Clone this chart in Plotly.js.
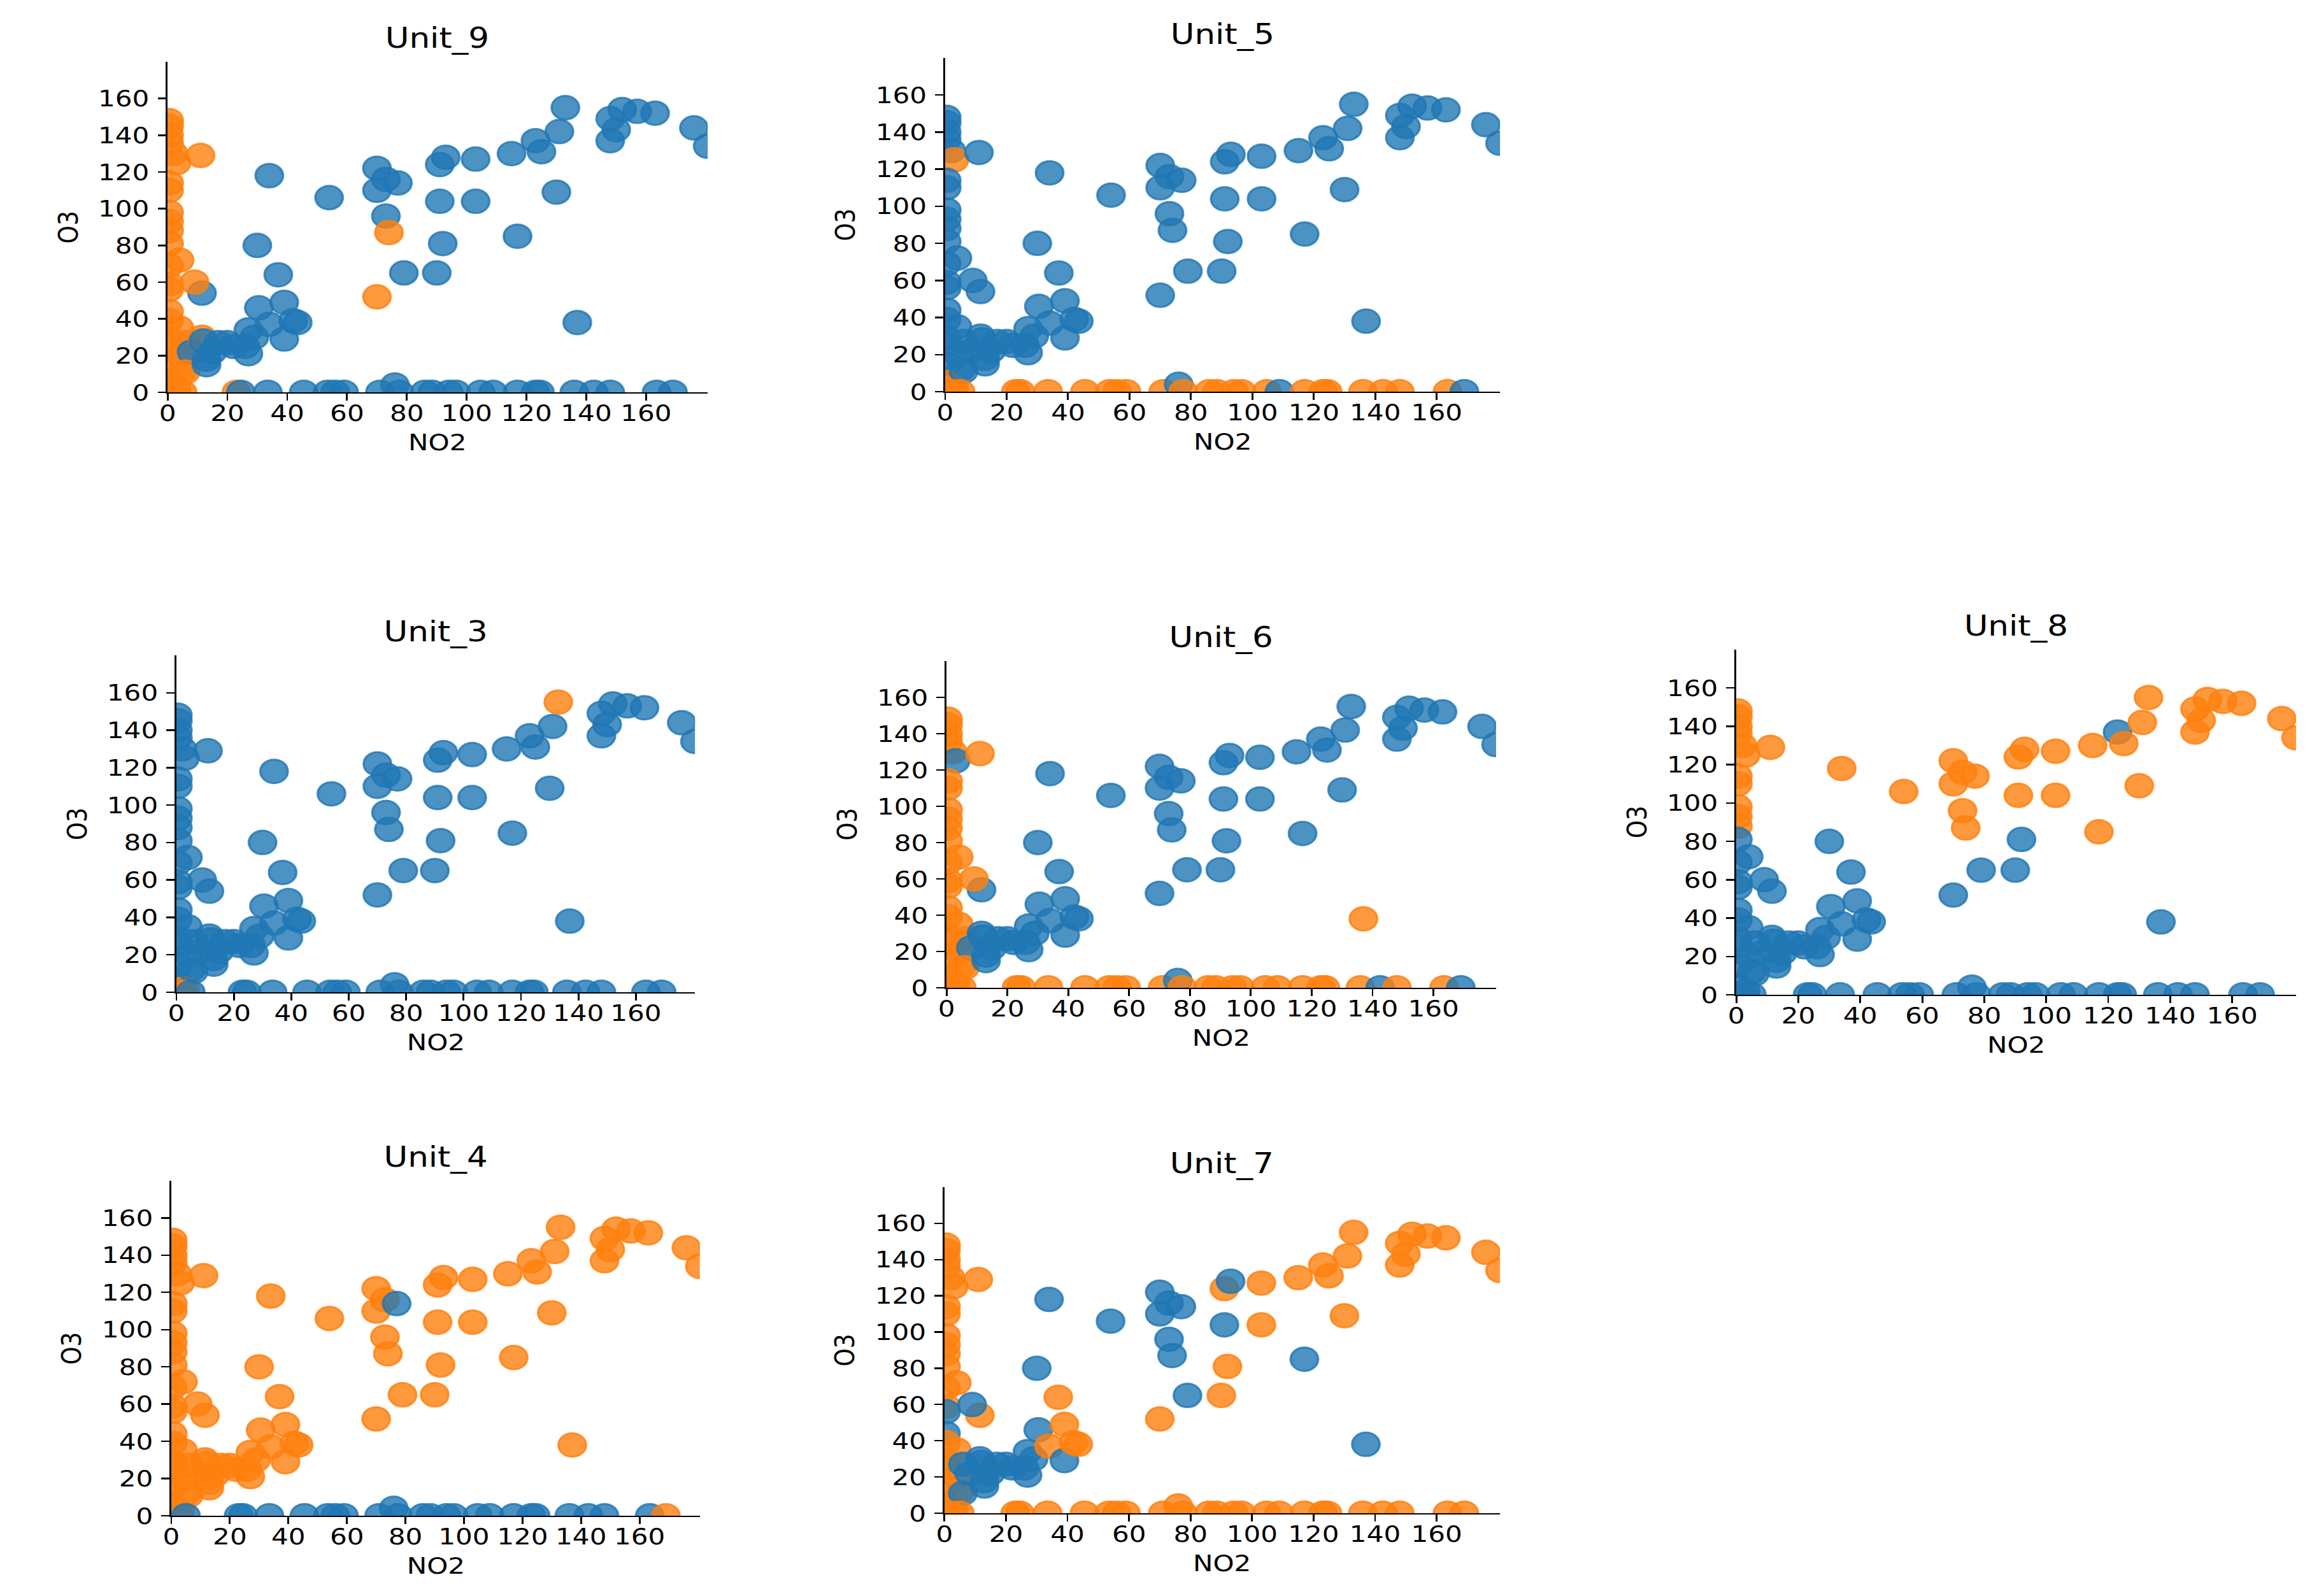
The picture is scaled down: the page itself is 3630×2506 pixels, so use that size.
<!DOCTYPE html>
<html>
<head>
<meta charset="utf-8">
<script src="https://cdn.plot.ly/plotly-3.0.1.min.js"></script>
<style>
html,body{margin:0;padding:0;background:#fff;overflow:hidden;}
#plot{width:3103px;height:2506px;transform:scaleX(1.16984);transform-origin:0 0;}
</style>
</head>
<body>
<div id="plot"></div>
<script>
// ---- data (same NO2 / O3 samples in every panel; labels differ per unit) ----
const units = ['Unit_9','Unit_5','Unit_3','Unit_6','Unit_8','Unit_4','Unit_7'];
const ticks = [0,20,40,60,80,100,120,140,160];

const no2 = [
  // column at NO2 ~ 0
  0.5,0.5,0.5,0.5,2,3,0.5,0.5,0.5,0.5,0.5,0.5,4,0.5,0.5,0.5,0.5,0.5,4,0.5,0.5,4,0.5,5,0.5,3,
  // low-left cluster
  6,8,6,11.5,12,13,13,15,17,20,22,26,27,27,29,30.5,34,39,39,43.5,42,11.5,9,
  // middle / upper
  11,34,54,30,37,70,70,70,73,77,73,74,79,90,92,91,91,93,103,103,117,115,123,125,130,131,133,148,150,148,152,157,163,176,180.6,137,
  // bottom row O3 ~ 0
  23,24.5,33.5,45.5,53.5,56,59,71,76,77.5,86,88.5,94,96.5,104.7,108.8,117,123,124.5,136,142.5,148,163.5,169,2,5
];
const o3 = [
  148,145,140,136,130,125,114,110,98,93,88,81,72,69,59,56,44,39,35,29,25,20,15,12,5,2,
  27,22,11,30,28,15,18,22,27,27,25,25,21,34,30,46,37,49,29,38,39,54,60,
  129,118,106,80,64,52,122,110,116,114,96,87,65,65,81,104,124,128,127,104,85,130,137,131,109,142,155,137,143,149,154,153,152,144,134,38,
  0,0,0,0,0,0,0,0,4,0,0,0,0,0,0,0,0,0,0,0,0,0,0,0,0,0
];
// cluster label per point (0 = blue, 1 = orange)
const label_unit9 = [
  1,1,1,1,1,1,1,1,1,1,1,1,1,1,1,1,1,1,1,1,1,1,1,1,1,1,
  1,0,1,1,0,0,0,0,0,0,0,0,0,0,0,0,0,0,0,0,0,0,1,
  1,0,0,0,0,1,0,0,0,0,0,1,0,0,0,0,0,0,0,0,0,0,0,0,0,0,0,0,0,0,0,0,0,0,0,0,
  1,0,0,0,0,0,0,0,0,0,0,0,0,0,0,0,0,0,0,0,0,0,0,0,1,1
];
const label_unit5 = [
  0,0,0,0,0,1,0,0,0,0,0,0,0,0,0,0,0,0,0,0,0,0,0,0,1,1,
  0,0,0,0,0,0,0,0,0,0,0,0,0,0,0,0,0,0,0,0,0,0,0,
  0,0,0,0,0,0,0,0,0,0,0,0,0,0,0,0,0,0,0,0,0,0,0,0,0,0,0,0,0,0,0,0,0,0,0,0,
  1,1,1,1,1,1,1,1,0,1,1,1,1,1,1,0,1,1,1,1,1,1,1,0,1,1
];
const label_unit3 = [
  0,0,0,0,0,0,0,0,0,0,0,0,0,0,0,0,0,0,0,0,0,0,0,0,0,1,
  0,0,0,0,0,0,0,0,0,0,0,0,0,0,0,0,0,0,0,0,0,0,0,
  0,0,0,0,0,0,0,0,0,0,0,0,0,0,0,0,0,0,0,0,0,0,0,0,0,0,1,0,0,0,0,0,0,0,0,0,
  0,0,0,0,0,0,0,0,0,0,0,0,0,0,0,0,0,0,0,0,0,0,0,0,1,0
];
const label_unit6 = [
  1,1,1,1,1,0,1,1,1,1,1,1,1,1,1,1,1,1,1,1,1,1,1,1,1,1,
  1,0,1,0,0,0,0,0,0,0,0,0,0,0,0,0,0,0,0,0,0,0,1,
  1,0,0,0,0,0,0,0,0,0,0,0,0,0,0,0,0,0,0,0,0,0,0,0,0,0,0,0,0,0,0,0,0,0,0,1,
  1,1,1,1,1,1,1,1,0,1,1,1,1,1,1,1,1,1,1,1,0,1,1,0,1,1
];
const label_unit8 = [
  1,1,1,1,1,1,1,1,1,1,1,0,0,0,0,0,0,0,0,0,0,0,0,0,0,0,
  0,0,0,0,0,0,0,0,0,0,0,0,0,0,0,0,0,0,0,0,0,0,0,
  1,1,1,0,0,0,1,1,1,1,1,1,0,0,0,1,1,1,1,1,1,1,0,1,1,1,1,1,1,1,1,1,1,1,1,0,
  0,0,0,0,0,0,0,0,0,0,0,0,0,0,0,0,0,0,0,0,0,0,0,0,0,0
];
const label_unit4 = [
  1,1,1,1,1,1,1,1,1,1,1,1,1,1,1,1,1,1,1,1,1,1,1,1,1,1,
  1,1,1,1,1,1,1,1,1,1,1,1,1,1,1,1,1,1,1,1,1,1,1,
  1,1,1,1,1,1,1,1,1,0,1,1,1,1,1,1,1,1,1,1,1,1,1,1,1,1,1,1,1,1,1,1,1,1,1,1,
  0,0,0,0,0,0,0,0,0,0,0,0,0,0,0,0,0,0,0,0,0,0,0,1,1,0
];
const label_unit7 = [
  1,1,1,1,1,1,1,1,1,1,1,1,1,1,1,0,0,1,1,1,1,1,1,1,1,1,
  0,0,0,0,0,0,0,0,0,0,0,0,0,0,0,0,1,1,0,1,1,1,0,
  1,0,0,0,1,1,0,0,0,0,0,0,0,1,1,0,1,0,1,1,0,1,1,1,1,1,1,1,1,1,1,1,1,1,1,0,
  1,1,1,1,1,1,1,1,1,1,1,1,1,1,1,1,1,1,1,1,1,1,1,1,1,1
];
const labels = [label_unit9,label_unit5,label_unit3,label_unit6,label_unit8,label_unit4,label_unit7];

// ---- layout ----
const FONT = 'DejaVu Sans';
const fill = ['rgba(31,119,180,0.8)','rgba(255,127,14,0.8)'];
// panel positions [x0,x1,y0,y1] in paper fractions
const panels = [
  [0.0725,0.3061,0.7542,0.9613],
  [0.4088,0.6488,0.7546,0.9637],
  [0.0763,0.3006,0.3783,0.5894],
  [0.4094,0.6471,0.3811,0.5858],
  [0.7510,0.9931,0.3767,0.5930],
  [0.0741,0.3027,0.0503,0.2602],
  [0.4085,0.6488,0.0519,0.2562]
];

const data = [];
const layout = {
  width:3103, height:2506, autosize:false,
  margin:{l:0,r:0,t:0,b:0,pad:0},
  paper_bgcolor:'#fff', plot_bgcolor:'#fff',
  showlegend:false,
  font:{family:FONT, size:36, color:'#000'},
  annotations:[]
};

units.forEach((u,i)=>{
  const n = i===0 ? '' : String(i+1);
  const p = panels[i];
  data.push({
    type:'scatter', mode:'markers',
    x:no2, y:o3,
    xaxis:'x'+n, yaxis:'y'+n,
    marker:{
      size:37,
      color:labels[i].map(v=>fill[v]),
      line:{width:3,color:labels[i].map(v=>fill[v])}
    },
    cliponaxis:true,
    hoverinfo:'skip'
  });
  const common = {
    showline:true, linecolor:'#000', linewidth:2.4,
    ticks:'outside', ticklen:11, tickwidth:2.4, tickcolor:'#000',
    tickvals:ticks, ticktext:ticks.map(String),
    showgrid:false, zeroline:false,
    tickfont:{family:FONT,size:36,color:'#000'}
  };
  layout['xaxis'+n] = Object.assign({}, common, {domain:[p[0],p[1]], range:[0,180.6], anchor:'y'+n, ticklabelstandoff:-12});
  layout['yaxis'+n] = Object.assign({}, common, {domain:[p[2],p[3]], range:[0,180], anchor:'x'+n, ticklabelstandoff:4});
  const cx = (p[0]+p[1])/2;
  layout.annotations.push({
    text:u, xref:'paper', yref:'paper', x:cx, y:p[3],
    xanchor:'center', yanchor:'middle', yshift:37, showarrow:false,
    font:{family:FONT,size:44,color:'#000'}
  });
  layout.annotations.push({
    text:'NO2', xref:'paper', yref:'paper', x:cx, y:p[2],
    xanchor:'center', yanchor:'middle', yshift:-79, showarrow:false,
    font:{family:FONT,size:36,color:'#000'}
  });
  layout.annotations.push({
    text:'O3', xref:'paper', yref:'paper', x:p[0], y:(p[2]+p[3])/2,
    xanchor:'center', yanchor:'middle', xshift:-133, textangle:-90, showarrow:false,
    font:{family:FONT,size:36,color:'#000'}
  });
});

Plotly.newPlot('plot', data, layout, {displayModeBar:false, staticPlot:true});
</script>
</body>
</html>
